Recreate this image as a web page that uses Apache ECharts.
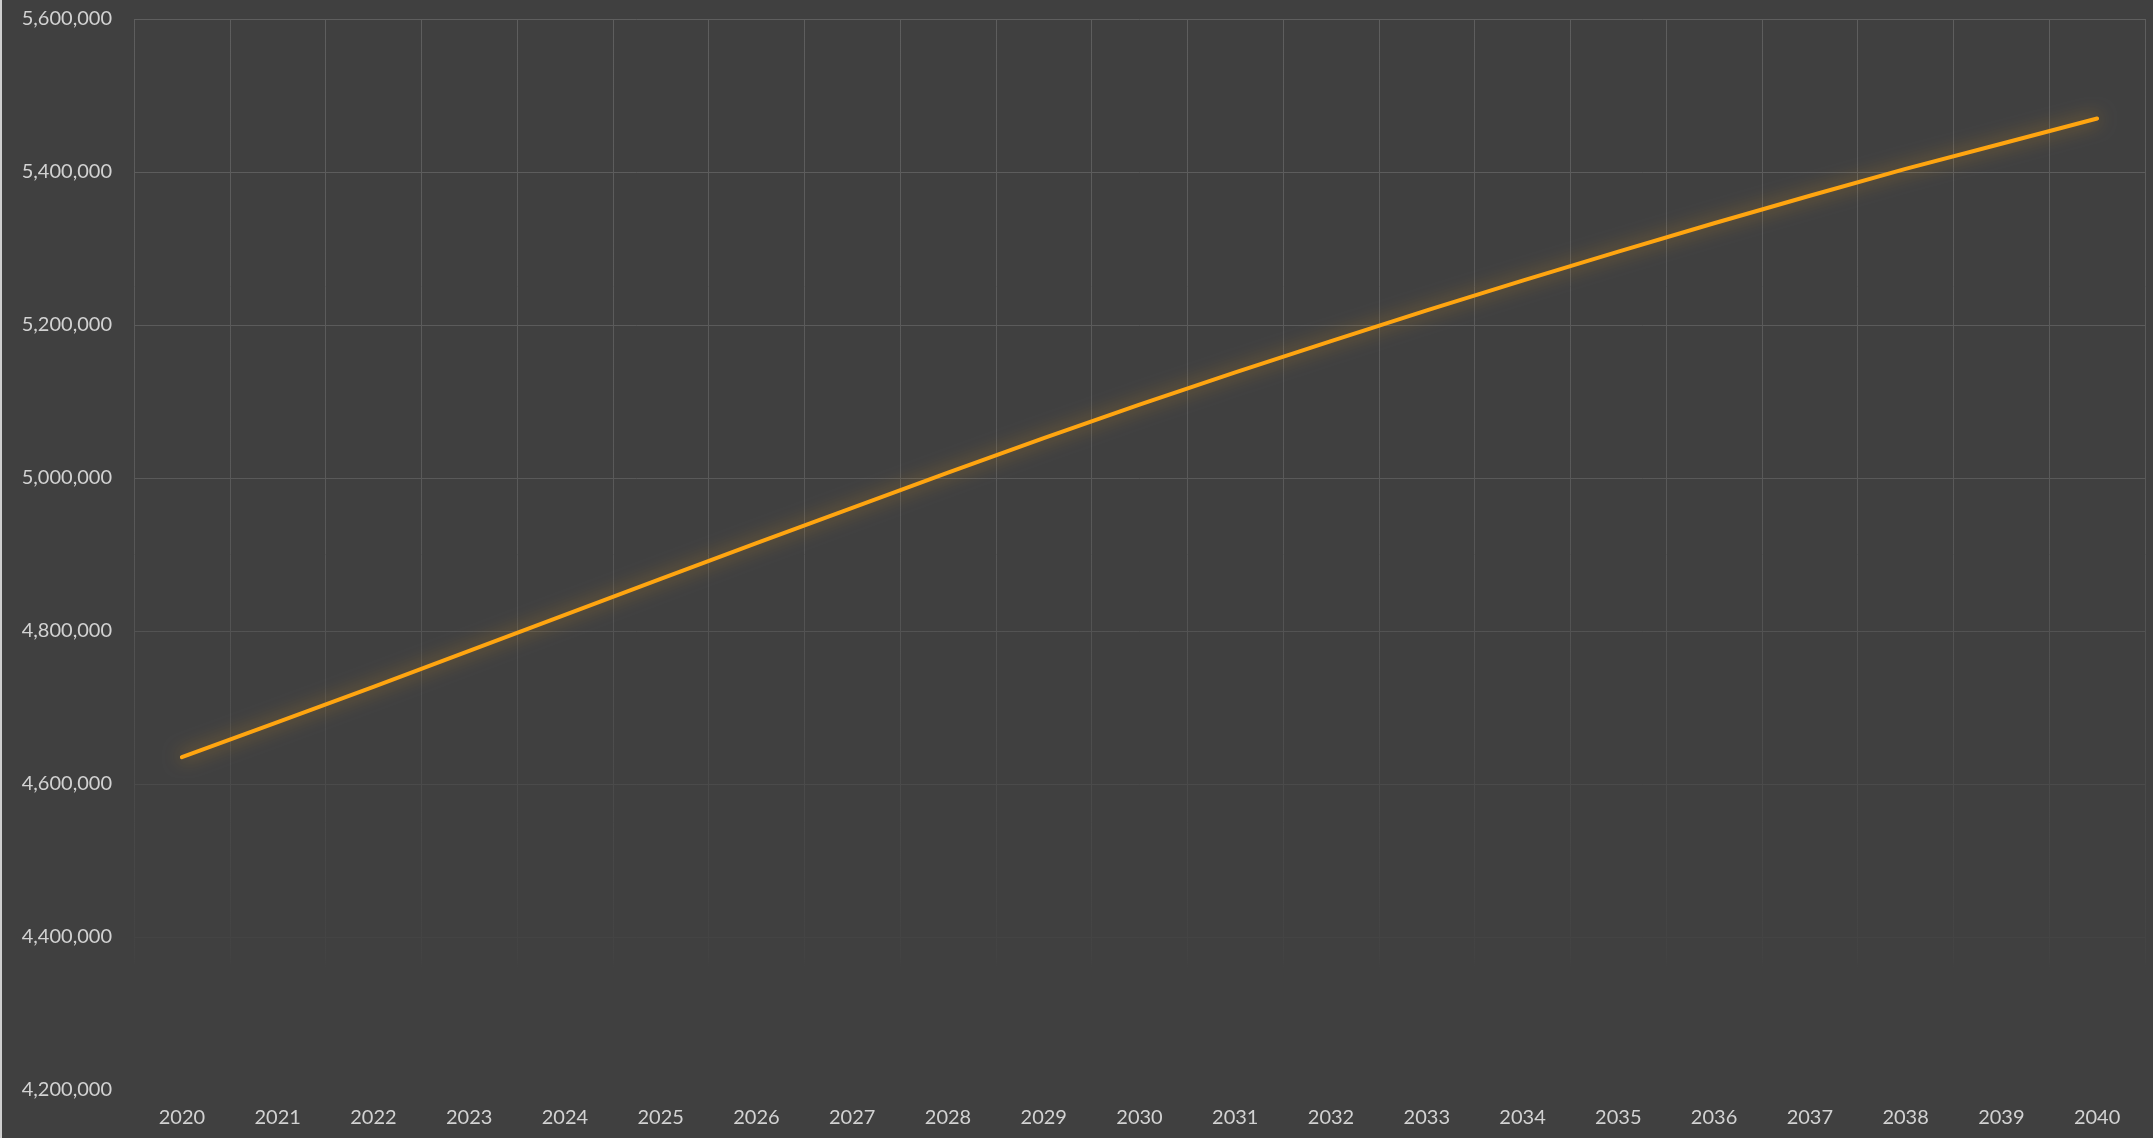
<!DOCTYPE html>
<html>
<head>
<meta charset="utf-8">
<title>line</title>
<script src="https://cdn.jsdelivr.net/npm/echarts@6/dist/echarts.min.js"></script>
<style>
html, body {
  margin: 0;
  padding: 0;
  background: #404040;
}
#line-charts {
  width: 2151px;
  height: 1138px;
  border-left: 2px solid #cfcfcf;
}
</style>
</head>
<body>
<div id="line-charts"></div>
<script>
// years on the x axis
var years = ["2020", "2021", "2022", "2023", "2024", "2025", "2026", "2027", "2028", "2029",
  "2030", "2031", "2032", "2033", "2034", "2035", "2036", "2037", "2038", "2039", "2040"];
// values
var values = [4635000, 4681000, 4727000, 4774000, 4821000, 4868000, 4915000, 4961000, 5007000, 5052000,
  5096000, 5138000, 5179000, 5219000, 5258000, 5296000, 5333000, 5369000, 5404000, 5437000, 5470000];
// y axis range
var yMin = 4200000;
var yMax = 5600000;
var yStep = 200000;

// grid lines fade out toward the bottom
var gridColor = {
  type: "linear",
  x: 0, y: 0, x2: 0, y2: 1138,
  global: true,
  colorStops: [
    { offset: 0, color: "#5e5e5e" },
    { offset: 0.45, color: "#595959" },
    { offset: 0.68, color: "#4b4b4b" },
    { offset: 0.84, color: "#434343" },
    { offset: 0.85, color: "#404040" },
    { offset: 1, color: "#404040" }
  ]
};

var myCharts = echarts.init(document.getElementById("line-charts"));
myCharts.setOption({
  backgroundColor: "#404040",
  animation: false,
  grid: {
    left: 132,
    right: 8,
    top: 19,
    bottom: 48
  },
  xAxis: {
    type: "category",
    data: years,
    boundaryGap: true,
    axisLine: { show: false },
    axisTick: { show: false },
    axisLabel: {
      color: "#d2d2d2",
      fontFamily: "Lato",
      fontSize: 20,
      margin: 18
    },
    splitLine: {
      show: true,
      lineStyle: { color: gridColor, width: 1 }
    }
  },
  yAxis: {
    type: "value",
    min: yMin,
    max: yMax,
    interval: yStep,
    axisLine: { show: false },
    axisTick: { show: false },
    axisLabel: {
      color: "#d2d2d2",
      fontFamily: "Lato",
      fontSize: 20,
      margin: 22,
      formatter: function (v) {
        return v.toLocaleString("en-US");
      }
    },
    splitLine: {
      lineStyle: { color: gridColor, width: 1 }
    }
  },
  series: [
    {
      type: "line",
      data: values,
      showSymbol: false,
      symbol: "none",
      lineStyle: {
        color: "#ffa510",
        width: 4,
        cap: "round",
        join: "round",
        shadowColor: "rgba(255, 170, 20, 0.55)",
        shadowBlur: 18
      }
    }
  ]
});
</script>
</body>
</html>
